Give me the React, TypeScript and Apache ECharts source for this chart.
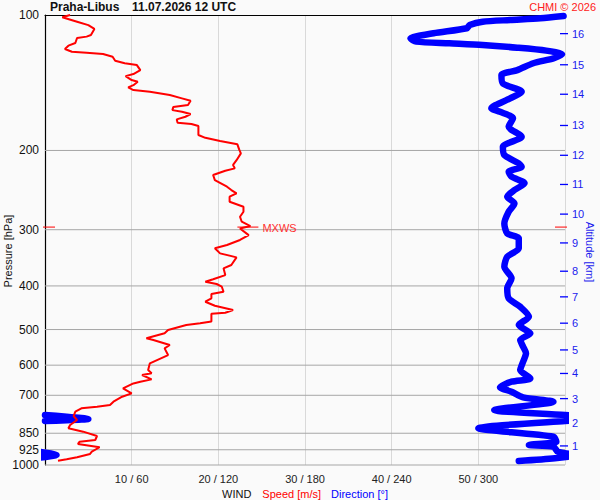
import React, { useEffect, useRef } from "react";
import * as echarts from "echarts";

const FONT = '"Liberation Sans", Arial, Helvetica, sans-serif';

// Wind speed profile [m/s] vs pressure [hPa]
const speedPressure = [
  100, 101.2, 103.5, 105.3, 107.4, 110.8, 111.7, 112.5, 115.4, 117.0, 119.0, 120.7, 121.3, 122.1, 123.8,
  126.4, 128.0, 129.2, 132.6, 135.3, 136.7, 139.5, 140.7, 143.2, 144.8, 146.8, 148.1, 150.6, 153.2, 155.1,
  158.5, 160.2, 162.7, 164.1, 166.0, 168.3, 170.6, 173.6, 174.7, 176.5, 184.8, 187.5, 190.6, 193.8, 198.9,
  203.0, 210.2, 215.4, 219.2, 221.9, 226.8, 232.7, 240.7, 244.9, 249.0, 253.4, 260.0, 266.7, 273.7, 280.8,
  288.0, 294.5, 298.1, 308.4, 316.2, 324.5, 330.0, 338.6, 345.6, 359.4, 365.6, 378.4, 386.7, 391.6, 396.1,
  401.6, 412.0, 416.9, 426.2, 433.7, 442.8, 452.6, 458.8, 461.4, 479.7, 484.4, 488.6, 501.2, 509.7, 523.0,
  527.6, 541.2, 550.5, 569.7, 594.5, 615.1, 625.6, 631.0, 645.2, 653.0, 658.7, 675.5, 693.0, 705.0, 723.4,
  735.6, 742.0, 748.2, 761.4, 778.3, 794.3, 815.0, 828.8, 843.2, 862.1, 880.0, 887.7, 897.9, 913.2, 934.2,
  945.1, 961.3, 971.2, 978.2,
];
const speedValues = [
  2.9, 2.0, 3.7, 5.0, 5.7, 5.3, 4.8, 3.7, 3.5, 2.7, 2.3, 3.1, 4.8, 6.7, 7.8,
  8.1, 9.2, 10.6, 11.0, 10.2, 9.3, 10.0, 10.7, 10.2, 9.6, 10.2, 12.1, 14.4, 15.8, 16.8,
  16.5, 14.8, 14.7, 15.8, 16.8, 16.2, 15.2, 15.3, 16.9, 17.7, 17.7, 18.5, 20.2, 22.2, 22.4,
  22.6, 22.1, 21.7, 21.9, 20.8, 19.4, 19.6, 21.0, 21.5, 22.1, 21.3, 21.3, 22.9, 22.9, 22.5,
  22.7, 23.7, 22.5, 23.5, 22.5, 21.0, 19.6, 20.2, 22.1, 21.5, 20.6, 20.8, 19.4, 18.5, 19.8,
  20.4, 20.6, 19.2, 19.2, 18.5, 19.6, 21.7, 20.8, 19.2, 19.2, 17.9, 16.3, 14.2, 13.8, 11.7,
  12.5, 14.4, 13.8, 14.2, 12.1, 11.9, 12.3, 11.2, 12.3, 11.0, 10.2, 9.0, 10.0, 8.9, 7.9,
  7.5, 6.0, 4.2, 3.5, 3.3, 3.7, 2.9, 2.7, 4.4, 6.0, 5.8, 4.0, 3.8, 6.3, 5.4,
  5.2, 3.7, 2.5, 1.5,
];

// Wind direction profile [deg] vs pressure [hPa] (values above 360 wrap round)
const dirPressure = [
  100.5, 101.7, 102.6, 103.5, 105.3, 107.0, 109.8, 112.7, 114.6, 115.6, 116.6, 118.2, 120.0, 122.3, 124.8,
  128.0, 132.6, 136.0, 141.9, 148.1, 153.2, 161.2, 164.1, 169.7, 177.2, 186.4, 196.2, 204.8, 213.7, 217.3,
  223.1, 228.7, 236.6, 244.9, 253.4, 262.2, 273.7, 290.5, 305.7, 313.6, 330.0, 344.5, 362.6, 384.8, 405.0,
  426.2, 445.0, 468.2, 488.6, 509.7, 527.6, 545.9, 564.8, 589.6, 615.1, 642.0, 653.0, 672.1, 687.4, 707.3,
  723.4, 754.8, 774.3, 790.3, 798.3, 828.8, 865.2, 887.7, 902.7, 910.4, 934.2, 950.0, 966.1, 979.6,
];
const dirValues = [
  359, 343, 322, 303, 294, 292, 269, 253, 257, 280, 303, 327, 347, 358, 352,
  338, 327, 316, 317, 330, 322, 309, 315, 324, 321, 330, 317, 318, 328, 330,
  321, 323, 332, 325, 320, 325, 321, 318, 320, 328, 328, 320, 318, 323, 320,
  321, 329, 335, 328, 336, 329, 331, 333, 331, 329, 336, 323, 315, 323, 331,
  352, 311, 360, 390, 360, 300, 352, 354, 335, 352, 355, 368, 353, 328,
];

const pressureLevels = [100, 200, 300, 400, 500, 600, 700, 850, 925, 1000];
const altitudeKm = [1, 2, 3, 4, 5, 6, 7, 8, 9, 10, 11, 12, 13, 14, 15, 16];
const altitudePressure = [907, 808, 712, 626, 555, 484, 423, 371, 321, 277, 238, 205, 176, 150, 129, 110];

const speedTicks = [0, 10, 20, 30, 40, 50, 60];
const speedMax = 60;
const dirMax = 360;

const maxWindSpeed = 23.7;
const maxWindPressure = 296;

export default function App() {
  const ref = useRef<HTMLDivElement>(null);

  useEffect(() => {
    if (!ref.current) return;
    const chart = echarts.init(ref.current, undefined, { renderer: "svg" });

    const speedData = speedValues.map((v, i) => [v, speedPressure[i]]);
    const dirData = dirValues.map((v, i) => [v, dirPressure[i]]);
    // the part of the direction trace that passes 360° re-enters at 0°
    const dirWrapData = dirValues.map((v, i) => {
      const near =
        v > dirMax ||
        (i > 0 && dirValues[i - 1] > dirMax) ||
        (i < dirValues.length - 1 && dirValues[i + 1] > dirMax);
      return near ? [v - dirMax, dirPressure[i]] : [null, dirPressure[i]];
    });
    const gridData = pressureLevels.map((p) => [0, p]);
    const altData = altitudeKm.map((k, i) => [speedMax, altitudePressure[i], k]);

    const option: any = {
      animation: false,
      backgroundColor: "#fafafa",
      textStyle: { fontFamily: FONT },
      title: [
        {
          text: "Praha-Libus",
          left: 50,
          top: 1,
          padding: 0,
          textStyle: { fontSize: 12, fontWeight: "bold", color: "#111", fontFamily: FONT },
        },
        {
          text: "11.07.2026 12 UTC",
          left: 132,
          top: 1,
          padding: 0,
          textStyle: { fontSize: 12, fontWeight: "bold", color: "#111", fontFamily: FONT },
        },
        {
          text: "CHMI © 2026",
          right: 4,
          top: 1,
          padding: 0,
          textStyle: { fontSize: 11, fontWeight: "normal", color: "#ff2020", fontFamily: FONT },
        },
      ],
      grid: { left: 45, right: 35, top: 15, bottom: 35, containLabel: false, outerBoundsMode: "none" },
      xAxis: [
        {
          type: "value",
          min: 0,
          max: speedMax,
          interval: 10,
          position: "bottom",
          axisLine: { show: false, onZero: false },
          axisTick: { show: false },
          splitLine: { show: true, lineStyle: { color: "#d9d9d9", width: 1 } },
          axisLabel: {
            margin: 8,
            fontSize: 11,
            color: "#222",
            fontFamily: FONT,
            formatter: (v: number) =>
              v === speedTicks[0] || v === speedTicks[speedTicks.length - 1] ? "" : `${v} / ${(v * dirMax) / speedMax}`,
          },
          name: "{a|WIND}{b|Speed [m/s]}{c|Direction [°]}",
          nameLocation: "middle",
          nameGap: 17,
          nameTextStyle: {
            fontSize: 11,
            fontFamily: FONT,
            rich: {
              a: { color: "#111", fontSize: 11, fontFamily: FONT },
              b: { color: "#ff0000", fontSize: 11, fontFamily: FONT, padding: [0, 0, 0, 11] },
              c: { color: "#0000ff", fontSize: 11, fontFamily: FONT, padding: [0, 0, 0, 10] },
            },
          },
        },
        {
          type: "value",
          min: 0,
          max: dirMax,
          position: "top",
          axisLine: { show: true, onZero: false, lineStyle: { color: "#000", width: 1 } },
          axisTick: { show: false },
          axisLabel: { show: false },
          splitLine: { show: false },
        },
      ],
      yAxis: [
        {
          type: "log",
          logBase: 10,
          min: 100,
          max: 1000,
          inverse: true,
          axisLine: { show: true, onZero: false, lineStyle: { color: "#000", width: 1.2 } },
          axisTick: { show: false },
          axisLabel: { show: false },
          splitLine: { show: false },
        },
      ],
      graphic: [
        {
          type: "text",
          x: 8,
          y: 251,
          rotation: Math.PI / 2,
          style: {
            text: "Pressure [hPa]",
            fontSize: 11,
            fontFamily: FONT,
            fill: "#111",
            align: "center",
            verticalAlign: "middle",
          },
        },
        {
          type: "text",
          x: 590,
          y: 252,
          rotation: -Math.PI / 2,
          style: {
            text: "Altitude [km]",
            fontSize: 11,
            fontFamily: FONT,
            fill: "#1a1aee",
            align: "center",
            verticalAlign: "middle",
          },
        },
      ],
      series: [
        {
          type: "custom",
          name: "pressure-grid",
          coordinateSystem: "cartesian2d",
          xAxisIndex: 0,
          yAxisIndex: 0,
          clip: false,
          z: 1,
          data: gridData,
          renderItem: (params: any, api: any) => {
            const p = api.value(1);
            const a = api.coord([0, p]);
            const b = api.coord([speedMax, p]);
            return {
              type: "group",
              children: [
                {
                  type: "line",
                  shape: { x1: a[0], y1: a[1], x2: b[0], y2: b[1] },
                  style: { stroke: p === pressureLevels[0] ? "rgba(0,0,0,0)" : "#a6a6a6", lineWidth: 1 },
                },
                {
                  type: "text",
                  x: a[0] - 6,
                  y: a[1],
                  style: {
                    text: String(p),
                    fontSize: 12,
                    fontFamily: FONT,
                    fill: "#111",
                    align: "right",
                    verticalAlign: "middle",
                  },
                },
              ],
            };
          },
        },
        {
          type: "line",
          name: "Direction",
          xAxisIndex: 1,
          yAxisIndex: 0,
          data: dirData,
          showSymbol: false,
          symbol: "none",
          smooth: 0.25,
          clip: true,
          z: 3,
          lineStyle: { color: "#0000ff", width: 6.5, cap: "round", join: "round" },
        },
        {
          type: "line",
          name: "DirectionWrap",
          xAxisIndex: 1,
          yAxisIndex: 0,
          data: dirWrapData,
          showSymbol: false,
          symbol: "none",
          smooth: 0.25,
          connectNulls: false,
          clip: true,
          z: 3,
          lineStyle: { color: "#0000ff", width: 6.5, cap: "round", join: "round" },
        },
        {
          type: "line",
          name: "Speed",
          xAxisIndex: 0,
          yAxisIndex: 0,
          data: speedData,
          showSymbol: false,
          symbol: "none",
          clip: true,
          z: 4,
          lineStyle: { color: "#ff0000", width: 2 },
        },
        {
          type: "custom",
          name: "altitude-axis",
          coordinateSystem: "cartesian2d",
          xAxisIndex: 0,
          yAxisIndex: 0,
          clip: false,
          z: 5,
          data: altData,
          renderItem: (params: any, api: any) => {
            const pt = api.coord([api.value(0), api.value(1)]);
            return {
              type: "group",
              children: [
                {
                  type: "line",
                  shape: { x1: pt[0] - 5, y1: pt[1], x2: pt[0] + 3, y2: pt[1] },
                  style: { stroke: "#0000ff", lineWidth: 1.3 },
                },
                {
                  type: "text",
                  x: pt[0] + 7,
                  y: pt[1],
                  style: {
                    text: String(api.value(2)),
                    fontSize: 11,
                    fontFamily: FONT,
                    fill: "#1a1aee",
                    align: "left",
                    verticalAlign: "middle",
                  },
                },
              ],
            };
          },
        },
        {
          type: "custom",
          name: "max-wind",
          coordinateSystem: "cartesian2d",
          xAxisIndex: 0,
          yAxisIndex: 0,
          clip: false,
          z: 6,
          data: [[maxWindSpeed, maxWindPressure]],
          renderItem: (params: any, api: any) => {
            const pt = api.coord([api.value(0), api.value(1)]);
            const l = api.coord([0, api.value(1)]);
            const r = api.coord([speedMax, api.value(1)]);
            return {
              type: "group",
              children: [
                {
                  type: "line",
                  shape: { x1: pt[0] - 13, y1: pt[1], x2: pt[0] + 8, y2: pt[1] },
                  style: { stroke: "#ff0000", lineWidth: 1 },
                },
                {
                  type: "line",
                  shape: { x1: l[0] - 2, y1: l[1], x2: l[0] + 10, y2: l[1] },
                  style: { stroke: "#ff0000", lineWidth: 1 },
                },
                {
                  type: "line",
                  shape: { x1: r[0] - 10, y1: r[1], x2: r[0] + 2, y2: r[1] },
                  style: { stroke: "#ff0000", lineWidth: 1 },
                },
                {
                  type: "text",
                  x: pt[0] + 12,
                  y: pt[1] + 1,
                  style: {
                    text: "MXWS",
                    fontSize: 11,
                    fontFamily: FONT,
                    fill: "#ff3030",
                    align: "left",
                    verticalAlign: "middle",
                  },
                },
              ],
            };
          },
        },
      ],
    };

    chart.setOption(option);
    return () => chart.dispose();
  }, []);

  return (
    <div
      ref={ref}
      style={{ position: "absolute", left: 0, top: 0, width: 600, height: 500 }}
    />
  );
}
